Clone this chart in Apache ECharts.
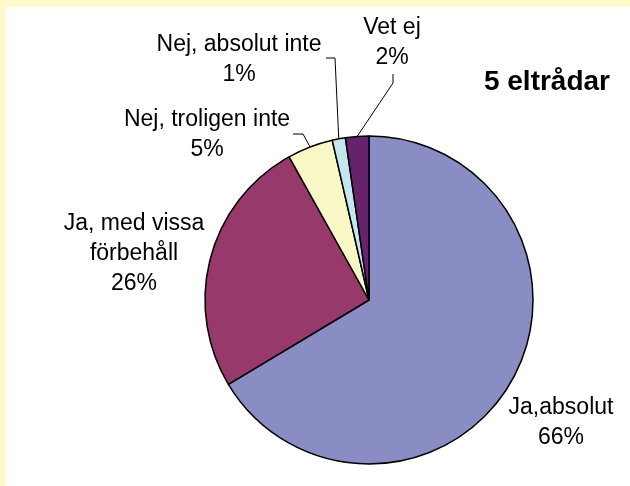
<!DOCTYPE html>
<html>
<head>
<meta charset="utf-8">
<script src="https://cdn.jsdelivr.net/npm/echarts@6/dist/echarts.min.js"></script>
<style>
  html, body { margin: 0; padding: 0; background: #fffacc; }
  #frame { position: absolute; left: 6px; top: 7px; right: 0; bottom: 0; background: #fff; }
  #chart { position: absolute; left: 0; top: 0; width: 630px; height: 486px; }
</style>
</head>
<body>
<div id="frame"></div>
<div id="chart"></div>
<script>
// slices in clockwise order from 12 o'clock
const categories = ['Ja,absolut', 'Ja, med vissa\nförbehåll', 'Nej, troligen inte', 'Nej, absolut inte', 'Vet ej']
const shares = [66.4, 25.5, 4.5, 1.3, 2.3]
const title = '5 eltrådar'

const colors = ['#8a8dc4', '#973a6b', '#faf7c7', '#c4e6ef', '#66226a']

// where each label sits on the page, and the elbow of its leader line (null = no line)
const labelSpots = [
  { x: 561, y: 423, elbow: null },
  { x: 134, y: 254, elbow: null },
  { x: 207, y: 135, elbow: [[303, 134], [293, 134]] },
  { x: 239, y: 60, elbow: [[335, 58], [326, 58]] },
  { x: 392, y: 43, elbow: [[393, 83], [393, 74]] },
]

const chart = echarts.init(document.getElementById('chart'))

chart.setOption({
  backgroundColor: 'transparent',
  animation: false,
  color: colors,
  title: {
    text: title,
    right: 15,
    top: 63,
    textStyle: { fontFamily: 'Liberation Sans', fontSize: 28, fontWeight: 'bold', color: '#000' },
  },
  series: [{
    type: 'pie',
    center: [369, 300],
    radius: 164,
    startAngle: 90,
    clockwise: true,
    avoidLabelOverlap: false,
    itemStyle: { borderColor: '#000', borderWidth: 1.5 },
    label: {
      show: true,
      position: 'outside',
      fontFamily: 'Liberation Sans',
      fontSize: 23,
      lineHeight: 30,
      color: '#000',
      align: 'center',
      formatter: p => p.name + '\n' + Math.round(p.percent) + '%',
    },
    labelLine: { show: true, lineStyle: { color: '#000', width: 1 } },
    labelLayout: params => {
      const spot = labelSpots[params.dataIndex]
      const out = { x: spot.x, y: spot.y, align: 'center', verticalAlign: 'middle' }
      if (spot.elbow) {
        out.labelLinePoints = [params.labelLinePoints[0], spot.elbow[0], spot.elbow[1]]
      }
      return out
    },
    data: categories.map((name, i) => ({
      name,
      value: shares[i],
      labelLine: { show: !!labelSpots[i].elbow },
    })),
  }],
})
</script>
</body>
</html>
